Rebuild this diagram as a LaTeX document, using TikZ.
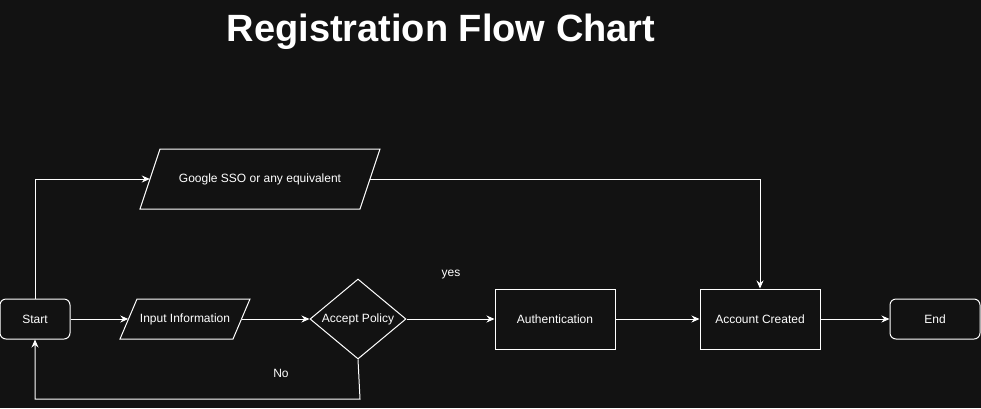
\documentclass[tikz,border=0pt]{standalone}
\usepackage{fontspec}
\setmainfont{Liberation Sans}
\usetikzlibrary{shapes.geometric,calc,arrows.meta}
\definecolor{bgc}{HTML}{121212}
\tikzset{
  every node/.style={text=white, font=\fontsize{12}{14}\selectfont},
  base/.style={draw=white, line width=1pt, fill=bgc},
  roundbox/.style={base, rectangle, rounded corners=6pt, minimum width=70pt, minimum height=40pt, inner sep=0pt},
  sqbox/.style={base, rectangle, minimum width=120pt, minimum height=60pt, inner sep=0pt},
  decision/.style={base, diamond, minimum width=96pt, minimum height=80pt, inner sep=0pt, shape aspect=1.2},
  paratext/.style={rectangle, inner sep=0pt},
  outline/.style={draw=white, line width=1pt, fill=bgc},
  conn/.style={draw=white, line width=1pt, -{Stealth[length=8pt,width=7pt]}},
  lbl/.style={text=white, font=\fontsize{12}{14}\selectfont},
  title/.style={text=white, font=\bfseries\fontsize{38}{40}\selectfont}
}
\begin{document}
\begin{tikzpicture}[x=1pt,y=-1pt]
\fill[bgc] (0,0) rectangle (981,408);
\useasboundingbox (0,0) rectangle (981,408);

\node[title] (title) at (441,32) {Registration Flow Chart};

% parallelogram outlines
\draw[outline] (160,149) -- (380,149) -- (360,209) -- (140,209) -- cycle;
\draw[outline] (137,299) -- (250,299) -- (233,339) -- (120,339) -- cycle;

\node[roundbox] (start) at (35,319) {Start};
\node[paratext, minimum width=240pt, minimum height=60pt] (sso) at (260,179) {Google SSO or any equivalent};
\node[paratext, minimum width=130pt, minimum height=40pt] (input) at (185,319) {Input Information};
\node[decision] (ap) at (358,319) {Accept Policy};
\node[sqbox] (auth) at (555,319) {Authentication};
\node[sqbox] (acc) at (760,319) {Account Created};
\node[roundbox, minimum width=90pt] (end) at (935,319) {End};

\node[lbl] (yes) at (451,275) {yes};
\node[lbl] (no) at (281,373) {No};

\coordinate (inL) at ($(input.west)+(8.5,0)$);
\coordinate (inR) at ($(input.east)+(-8.5,0)$);
\coordinate (ssoL) at ($(sso.west)+(10,0)$);
\coordinate (ssoR) at ($(sso.east)+(-10,0)$);
\coordinate (noA) at (360,399);
\coordinate (noB) at (35,399);

\draw[conn] (start.east) -- (inL);
\draw[conn] (inR) -- (ap.west);
\draw[conn] (ap.east) -- (auth.west);
\draw[conn] (auth.east) -- (acc.west);
\draw[conn] (acc.east) -- (end.west);
\draw[conn] (start.north) |- (ssoL);
\draw[conn] (ssoR) -| (acc.north);
\draw[conn] (ap.south) -- (noA) -- (noB) -- (start.south);
\end{tikzpicture}
\end{document}
